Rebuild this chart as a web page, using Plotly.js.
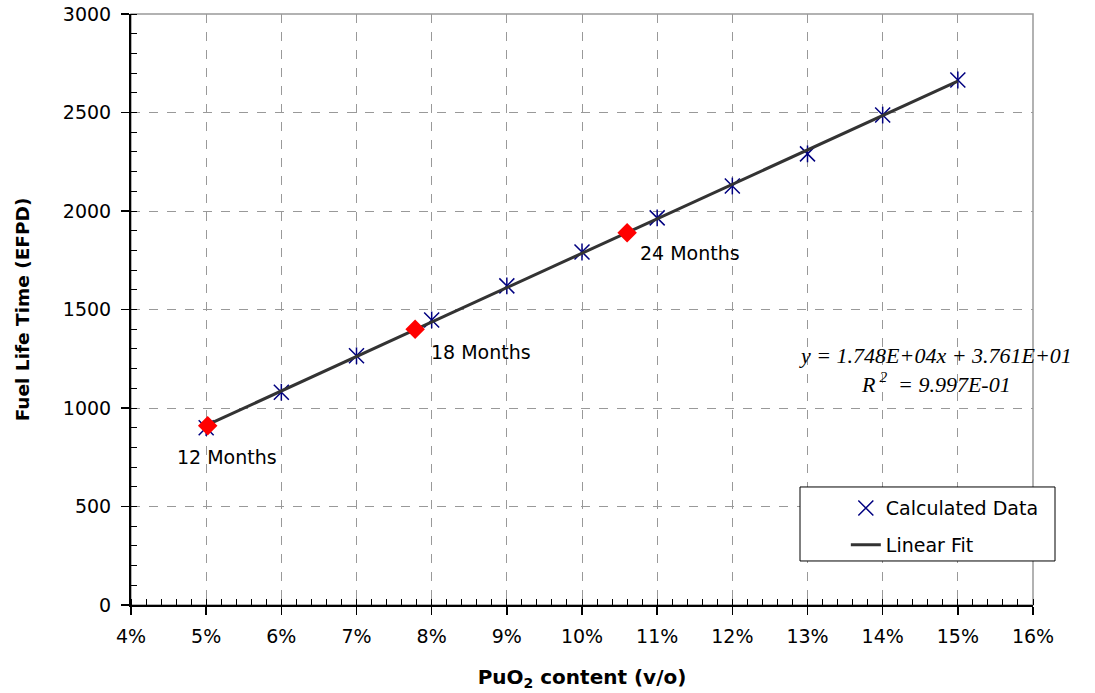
<!DOCTYPE html>
<html>
<head>
<meta charset="utf-8">
<script src="https://cdn.plot.ly/plotly-3.0.1.min.js"></script>
<style>html,body{margin:0;padding:0;background:#fff;}#chart{width:1095px;height:693px;}</style>
</head>
<body>
<div id="chart"></div>
<script>
// PuO2 content (fraction) and calculated fuel life time (EFPD)
const puContent = [0.05, 0.06, 0.07, 0.08, 0.09, 0.10, 0.11, 0.12, 0.13, 0.14, 0.15];
const lifeTime  = [900, 1080, 1265, 1447, 1620, 1792, 1965, 2127, 2290, 2487, 2665];

// Linear fit coefficients: y = slope*x + intercept
const fitSlope = 1.748e4;
const fitIntercept = 3.761e1;
const fitRange = [0.05, 0.15];

// Cycle length operating points
const cycleContent = [0.0502, 0.0778, 0.1060];
const cycleLife    = [910, 1400, 1890];
const cycleLabels  = ['12 Months', '18 Months', '24 Months'];

const fitY = fitRange.map(x => fitSlope * x + fitIntercept);

const FONT = 'DejaVu Sans, Verdana, sans-serif';
const NAVY = '#000080';

const traces = [
  {
    x: puContent, y: lifeTime, type: 'scatter', mode: 'markers',
    name: 'Calculated Data', legendgroup: 'calc',
    marker: {symbol: 'x-thin-open', size: 15, color: NAVY, line: {color: NAVY, width: 1.5}}
  },
  {
    // vertical stroke completing the six-armed star marker
    x: puContent, y: lifeTime, type: 'scatter', mode: 'markers',
    name: 'Calculated Data', legendgroup: 'calc', showlegend: false,
    marker: {symbol: 'line-ns-open', size: 12, color: NAVY, line: {color: NAVY, width: 1.5}}
  },
  {
    x: fitRange, y: fitY, type: 'scatter', mode: 'lines',
    name: 'Linear Fit', line: {color: '#333333', width: 3}
  },
  {
    x: cycleContent, y: cycleLife, type: 'scatter', mode: 'markers',
    name: 'Cycle length', showlegend: false,
    marker: {symbol: 'diamond', size: 15, color: '#ff0000'}
  }
];

// label offsets (px) relative to each operating point
const labelShift = [[-33, -31], [14, -23], [11, -20]];
const annotations = cycleLabels.map((t, i) => ({
  x: cycleContent[i], y: cycleLife[i], text: t, showarrow: false,
  xanchor: 'left', yanchor: 'middle',
  xshift: labelShift[i][0], yshift: labelShift[i][1],
  font: {family: FONT, size: 19, color: '#000'}
}));
annotations.push({
  xref: 'paper', yref: 'paper', x: 0.892, y: 0.398, showarrow: false,
  xanchor: 'center', yanchor: 'middle', align: 'center',
  text: 'y = 1.748E+04x + 3.761E+01<br>R<sup> 2</sup>  = 9.997E-01',
  font: {family: 'Liberation Serif, Times New Roman, serif', size: 22, color: '#000', style: 'italic'}
});

const layout = {
  width: 1095, height: 693,
  margin: {l: 131, r: 62, t: 14, b: 88},
  paper_bgcolor: '#fff', plot_bgcolor: '#fff',
  font: {family: FONT, size: 19, color: '#000'},
  showlegend: true,
  legend: {
    x: 0.7925, y: 0.196, xanchor: 'left', yanchor: 'top',
    bgcolor: 'rgba(0,0,0,0)', borderwidth: 0,
    font: {family: FONT, size: 19, color: '#000'},
    tracegroupgap: 9, itemwidth: 30
  },
  xaxis: {
    range: [0.04, 0.16], dtick: 0.01, tick0: 0.04, tickformat: '.0%',
    showline: true, linecolor: '#000', linewidth: 2,
    ticks: 'outside', ticklen: 8, tickwidth: 1.5, tickcolor: '#000',
    showgrid: true, gridcolor: '#999', griddash: 'dash', gridwidth: 1,
    zeroline: false, ticklabelstandoff: 5,
    minor: {dtick: 0.002, ticks: 'inside', ticklen: 6, tickcolor: '#000', tickwidth: 1, showgrid: false},
    tickfont: {family: FONT, size: 19},
    title: {text: '<b>PuO<sub>2</sub> content (v/o)</b>', font: {family: FONT, size: 20}, standoff: 24}
  },
  yaxis: {
    range: [0, 3000], dtick: 500,
    showline: true, linecolor: '#000', linewidth: 2,
    ticks: 'outside', ticklen: 8, tickwidth: 1.5, tickcolor: '#000',
    showgrid: true, gridcolor: '#999', griddash: 'dash', gridwidth: 1,
    zeroline: false, ticklabelstandoff: 6,
    minor: {dtick: 100, ticks: 'inside', ticklen: 6, tickcolor: '#000', tickwidth: 1, showgrid: false},
    tickfont: {family: FONT, size: 19},
    title: {text: '<b>Fuel Life Time (EFPD)</b>', font: {family: FONT, size: 18.5}, standoff: 28}
  },
  shapes: [
    // plot area frame (top and right edges visible)
    {type: 'rect', xref: 'paper', yref: 'paper', x0: 0, x1: 1, y0: 0, y1: 1, layer: 'below',
     line: {color: '#999', width: 1.5}},
    // legend box
    {type: 'rect', xref: 'paper', yref: 'paper', x0: 0.7417, x1: 1.0244, y0: 0.0745, y1: 0.1997,
     layer: 'above', fillcolor: '#fff', line: {color: '#000', width: 1}}
  ],
  annotations: annotations
};

Plotly.newPlot('chart', traces, layout, {displayModeBar: false, staticPlot: true});
</script>
</body>
</html>
